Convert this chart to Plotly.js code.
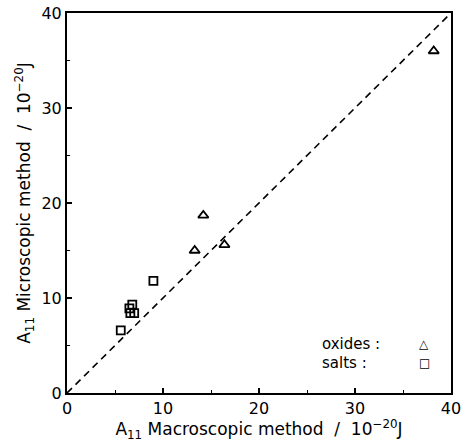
<!DOCTYPE html>
<html>
<head>
<meta charset="utf-8">
<script src="https://cdn.plot.ly/plotly-3.0.1.min.js"></script>
<style>
  html, body { margin: 0; padding: 0; background: #fff; }
  #plot { width: 462px; height: 442px; }
</style>
</head>
<body>
<div id="plot"></div>
<script>
// Hamaker constants A11 (10^-20 J): macroscopic vs microscopic estimate
const oxidesMacro = [13.3, 14.2, 16.4, 38.2];
const oxidesMicro = [15.0, 18.7, 15.6, 36.0];

const saltsMacro = [5.6, 6.5, 6.8, 6.6, 7.0, 9.0];
const saltsMicro = [6.6, 8.9, 9.3, 8.4, 8.4, 11.8];

const identityLine = [0, 40];

const xTicks = [0, 10, 20, 30, 40];
const yTicks = [0, 10, 20, 30, 40];

const FONT = "DejaVu Sans, Liberation Sans, sans-serif";

const traces = [
  {
    x: identityLine, y: identityLine,
    mode: "lines",
    line: { color: "#000", width: 1.6, dash: "7px,5px" },
    hoverinfo: "skip"
  },
  {
    x: oxidesMacro, y: oxidesMicro,
    mode: "markers",
    marker: { symbol: "triangle-up-open", size: 9, color: "#000", line: { width: 1.8, color: "#000" } }
  },
  {
    x: saltsMacro, y: saltsMicro,
    mode: "markers",
    marker: { symbol: "square-open", size: 8, color: "#000", line: { width: 1.8, color: "#000" } }
  }
];

const axisCommon = {
  range: [0, 40],
  showgrid: false,
  zeroline: false,
  showline: true,
  linecolor: "#000",
  linewidth: 2,
  mirror: true,
  ticks: "inside",
  ticklen: 5,
  tickwidth: 1.5,
  tickcolor: "#000",
  tickfont: { family: FONT, size: 16, color: "#000" },
  minor: { ticks: "inside", ticklen: 3, tickwidth: 1, dtick: 5, tickcolor: "#000" }
};

const layout = {
  width: 462,
  height: 442,
  margin: { l: 67, r: 11, t: 13, b: 49 },
  paper_bgcolor: "#fff",
  plot_bgcolor: "#fff",
  showlegend: false,
  xaxis: Object.assign({}, axisCommon, {
    tickvals: xTicks,
    ticktext: xTicks.map(String),
    title: {
      text: "A<sub>11</sub> Macroscopic method  /  10<sup>−20</sup>J",
      font: { family: FONT, size: 17, color: "#000" },
      standoff: 2
    }
  }),
  yaxis: Object.assign({}, axisCommon, {
    tickvals: yTicks,
    ticktext: yTicks.map(String),
    title: {
      text: "A<sub>11</sub> Microscopic method  /  10<sup>−20</sup>J",
      font: { family: FONT, size: 17, color: "#000" },
      standoff: 6
    }
  }),
  annotations: [
    {
      xref: "paper", yref: "paper", x: 0.66, y: 0.13, xanchor: "left", yanchor: "middle",
      text: "oxides :", showarrow: false,
      font: { family: FONT, size: 15, color: "#000" }
    },
    {
      xref: "paper", yref: "paper", x: 0.93, y: 0.13, xanchor: "center", yanchor: "middle",
      text: "△", showarrow: false,
      font: { family: FONT, size: 12, color: "#000" }
    },
    {
      xref: "paper", yref: "paper", x: 0.66, y: 0.08, xanchor: "left", yanchor: "middle",
      text: "salts :", showarrow: false,
      font: { family: FONT, size: 15, color: "#000" }
    },
    {
      xref: "paper", yref: "paper", x: 0.93, y: 0.08, xanchor: "center", yanchor: "middle",
      text: "□", showarrow: false,
      font: { family: FONT, size: 12, color: "#000" }
    }
  ]
};

Plotly.newPlot("plot", traces, layout, { staticPlot: true, displayModeBar: false });
</script>
</body>
</html>
